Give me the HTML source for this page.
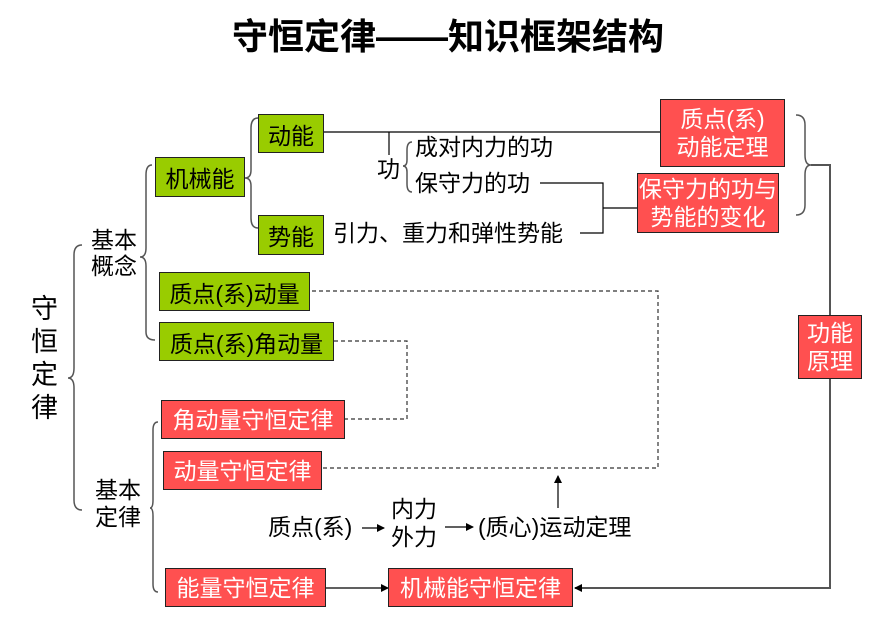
<!DOCTYPE html>
<html><head><meta charset="utf-8"><style>
body{margin:0;width:872px;height:620px;background:#fff;position:relative;overflow:hidden;font-family:"Liberation Sans","Noto Sans CJK SC",sans-serif;}
.t{position:absolute;white-space:nowrap;color:#000;font-size:23px;line-height:26px;}
.g{position:absolute;background:#99cc00;border:1.5px solid #222;box-sizing:border-box;font-size:23px;color:#000;display:flex;align-items:center;justify-content:center;white-space:nowrap;}
.r{position:absolute;background:#ff5050;border:1.5px solid #222;box-sizing:border-box;font-size:23px;color:#fff;display:flex;align-items:center;justify-content:center;white-space:nowrap;line-height:28px;text-align:center;}
svg{position:absolute;left:0;top:0;}
</style></head><body>
<svg width="872" height="620">
<defs><marker id="a" markerWidth="8" markerHeight="8" refX="7" refY="4" orient="auto" markerUnits="userSpaceOnUse"><path d="M0,0 L8,4 L0,8z" fill="#000"/></marker></defs>
<g fill="none" stroke="#555" stroke-width="1.5">
<path d="M82,245 Q74,245 74,255 L74,368 Q74,378 68,378 Q74,378 74,388 L74,500 Q74,510 82,510"/>
<path d="M152,165 Q146,165 146,175 L146,248 Q146,257 140,257 Q146,257 146,266 L146,332 Q146,340 155,340"/>
<path d="M158,422 Q153,422 153,430 L153,500 Q153,508 150,508 Q153,508 153,516 L153,584 Q153,592 158,592"/>
<path d="M258,118 Q251,118 251,128 L251,170 Q251,178 245,178 Q251,178 251,186 L251,218 Q251,228 258,228"/>
<path d="M412,142 Q407,142 407,150 L407,160 Q407,166 403,166 Q407,166 407,172 L407,184 Q407,192 412,192"/>
<path d="M796,115 Q805,115 805,125 L805,155 Q805,165 811,165 Q805,165 805,175 L805,205 Q805,215 796,215"/>
</g>
<g fill="none" stroke="#000" stroke-width="1.2">
<path d="M323,132 L660,132"/>
<path d="M389,132 L389,155"/>
<path d="M540,183 L603,183 L603,233 L580,233"/>
<path d="M603,208 L637,208"/>
<path d="M811,165 L830,165 L830,315" stroke="#555" stroke-width="2"/>
<path d="M830,378 L830,588 L575,588" stroke="#555" stroke-width="2" marker-end="url(#a)"/>
<path d="M312,291 L658,291 L658,468 L323,468" stroke-dasharray="4,3" stroke="#333"/>
<path d="M334,341 L407,341 L407,419 L345,419" stroke-dasharray="4,3" stroke="#333"/>
<path d="M558,508 L558,476" marker-end="url(#a)"/>
<path d="M362,528 L384,528" marker-end="url(#a)"/>
<path d="M445,527 L473,527" marker-end="url(#a)"/>
<path d="M325,588 L388,588" marker-end="url(#a)"/>
</g>
</svg>
<div class="t" style="left:0;width:896px;top:16px;text-align:center;font-size:36px;line-height:42px;font-weight:bold;">守恒定律——知识框架结构</div>
<div class="t" style="left:31px;top:293px;font-size:27px;line-height:33px;white-space:normal;width:28px;">守<br>恒<br>定<br>律</div>
<div class="t" style="left:91px;top:227px;line-height:26px;">基本<br>概念</div>
<div class="t" style="left:95px;top:477px;line-height:27px;">基本<br>定律</div>
<div class="g" style="left:155px;top:157px;width:90px;height:40px;">机械能</div>
<div class="g" style="left:258px;top:114px;width:66px;height:39px;">动能</div>
<div class="g" style="left:258px;top:215px;width:66px;height:40px;">势能</div>
<div class="g" style="left:159px;top:272px;width:151px;height:39px;">质点(系)动量</div>
<div class="g" style="left:159px;top:322px;width:175px;height:39px;">质点(系)角动量</div>
<div class="r" style="left:161px;top:400px;width:184px;height:39px;">角动量守恒定律</div>
<div class="r" style="left:163px;top:451px;width:159px;height:39px;">动量守恒定律</div>
<div class="r" style="left:165px;top:568px;width:161px;height:39px;">能量守恒定律</div>
<div class="r" style="left:388px;top:568px;width:185px;height:39px;">机械能守恒定律</div>
<div class="r" style="left:660px;top:99px;width:125px;height:68px;">质点(系)<br>动能定理</div>
<div class="r" style="left:637px;top:173px;width:142px;height:60px;">保守力的功与<br>势能的变化</div>
<div class="r" style="left:798px;top:315px;width:64px;height:64px;">功能<br>原理</div>
<div class="t" style="left:377px;top:156px;">功</div>
<div class="t" style="left:415px;top:134px;">成对内力的功</div>
<div class="t" style="left:415px;top:170px;">保守力的功</div>
<div class="t" style="left:333px;top:220px;">引力、重力和弹性势能</div>
<div class="t" style="left:268px;top:514px;">质点(系)</div>
<div class="t" style="left:391px;top:495px;line-height:28px;">内力<br>外力</div>
<div class="t" style="left:478px;top:514px;">(质心)运动定理</div>
</body></html>
